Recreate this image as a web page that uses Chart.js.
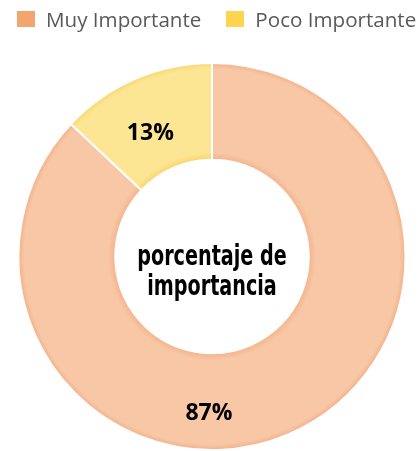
<!DOCTYPE html>
<html>
<head>
<meta charset="utf-8">
<script src="https://cdn.jsdelivr.net/npm/chart.js@4"></script>
<style>
  html,body{margin:0;padding:0;background:#fff;}
  #wrap{position:relative;width:419px;height:451px;overflow:hidden;}
  #legend{position:absolute;left:17px;top:5px;font-family:"Open Sans",sans-serif;font-size:20.6px;line-height:28px;color:#595959;white-space:nowrap;}
  #legend span.it{display:inline-flex;align-items:center;margin-right:25px;}
  #legend i{display:inline-block;width:18px;height:16px;margin-right:11px;}
  canvas{position:absolute;left:0;top:0;}
</style>
</head>
<body>
<div id="wrap">
  <canvas id="c" width="419" height="451"></canvas>
  <div id="legend"></div>
</div>
<script>
  // data
  const labels = ['Muy Importante', 'Poco Importante'];
  const values = [87, 13];
  const legendColors = ['#F4A46D', '#FFD44E'];
  const centerLines = ['porcentaje de', 'importancia'];

  // ring shading: [inner edge, middle, outer edge]
  const shades = [['#F4B58E', '#F8C7A6', '#F2AD84'], ['#F9D670', '#FCE593', '#F9D46A']];

  document.getElementById('legend').innerHTML = labels.map((l, i) =>
    `<span class="it"><i style="background:${legendColors[i]}"></i>${l}</span>`).join('');

  function fill(ctx){
    const ch = ctx.chart, a = ch.chartArea, i = ctx.dataIndex;
    if(!a) return shades[i][1];
    const cx = (a.left + a.right) / 2, cy = (a.top + a.bottom) / 2;
    const R = Math.min(a.right - a.left, a.bottom - a.top) / 2, r = R * 0.5;
    const g = ch.ctx.createRadialGradient(cx, cy, r, cx, cy, R);
    g.addColorStop(0, shades[i][0]);
    g.addColorStop(0.07, shades[i][1]);
    g.addColorStop(0.93, shades[i][1]);
    g.addColorStop(1, shades[i][2]);
    return g;
  }

  const labelPlugin = {
    id: 'sliceLabels',
    afterDatasetsDraw(chart){
      const ctx = chart.ctx, meta = chart.getDatasetMeta(0);
      const total = values.reduce((s, v) => s + v, 0);
      ctx.save();
      ctx.fillStyle = '#000';
      ctx.font = 'bold 23px "Open Sans", sans-serif';
      ctx.textAlign = 'center'; ctx.textBaseline = 'middle';
      meta.data.forEach((arc, i) => {
        const p = arc.getProps(['x', 'y', 'startAngle', 'endAngle', 'innerRadius', 'outerRadius'], true);
        let ang = (p.startAngle + p.endAngle) / 2 - 0.05, rad = p.outerRadius * 0.72;
        // big slice wrapping the bottom: put label at the bottom
        if(p.startAngle < Math.PI / 2 && p.endAngle > Math.PI / 2){ ang = Math.PI / 2 + 0.02; rad = p.outerRadius * 0.8; }
        ctx.fillText(Math.round(values[i] / total * 100) + '%', p.x + Math.cos(ang) * rad, p.y + Math.sin(ang) * rad + 2);
      });
      // center title
      const c = meta.data[0];
      ctx.textBaseline = 'alphabetic';
      ctx.font = 'bold 29px "DejaVu Sans Condensed", sans-serif';
      centerLines.forEach((t, k) => {
        ctx.save();
        ctx.translate(c.x, c.y + 8 + k * 30);
        ctx.scale(0.735, 1);
        ctx.fillText(t, 0, 0);
        ctx.restore();
      });
      ctx.restore();
    }
  };

  new Chart(document.getElementById('c'), {
    type: 'doughnut',
    data: {
      labels,
      datasets: [{ data: values, backgroundColor: fill, borderColor: '#fff', borderWidth: 2, hoverOffset: 0 }]
    },
    options: {
      responsive: false,
      animation: false,
      cutout: '50%',
      layout: { padding: { top: 62, left: 5, right: 0, bottom: 0 } },
      plugins: { legend: { display: false }, tooltip: { enabled: false } }
    },
    plugins: [labelPlugin]
  });
</script>
</body>
</html>
